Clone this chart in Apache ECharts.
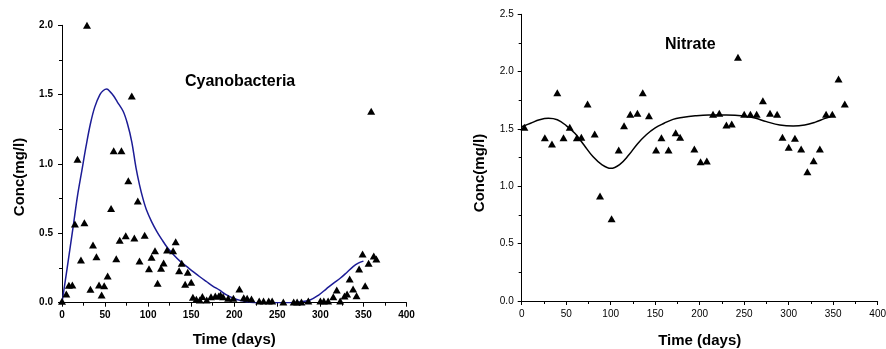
<!DOCTYPE html>
<html>
<head>
<meta charset="utf-8">
<script src="https://cdn.jsdelivr.net/npm/echarts@6/dist/echarts.min.js"></script>
<style>html,body{margin:0;padding:0;background:#fff}#c{width:886px;height:349px}</style>
</head>
<body>
<div id="c"></div>
<script>
// Cyanobacteria observations
var cyanoDays = [0,5,8,12,15,18,22,26,29,33,36,40,43,46,49,53,57,60,63,67,69,74,77,81,84,88,90,96,101,104,108,111,115,118,122,129,132,136,139,143,146,150,152,156,160,163,168,173,178,182,184,187,193,199,206,211,215,220,229,234,240,244,257,269,273,278,286,300,304,309,315,319,323,328,331,334,338,342,345,349,352,356,359,362,365];
var cyanoVals = [0.01,0.063,0.125,0.128,0.567,1.034,0.308,0.577,2.0,0.097,0.416,0.332,0.128,0.056,0.123,0.193,0.68,1.096,0.317,0.45,1.096,0.483,0.88,1.49,0.466,0.733,0.30,0.486,0.245,0.327,0.375,0.14,0.248,0.286,0.38,0.375,0.44,0.23,0.284,0.133,0.219,0.147,0.04,0.025,0.02,0.045,0.02,0.043,0.048,0.048,0.056,0.043,0.032,0.032,0.099,0.036,0.032,0.027,0.012,0.012,0.012,0.012,0.005,0.005,0.005,0.005,0.012,0.012,0.012,0.012,0.043,0.092,0.012,0.048,0.063,0.171,0.099,0.05,0.243,0.351,0.123,0.284,1.38,0.337,0.315];
// Cyanobacteria fitted curve
var cyanoFitDays = [0,6,13,18,23,28,33,38,44,48,52,56,60,64,71,76,81,86,90,94,98,104,110,116,122,129,137,145,153,160,168,175,183,190,199,208,218,228,240,255,265,275,288,298,307,315,323,331,338,344,350];
var cyanoFitVals = [0,0.25,0.55,0.77,0.95,1.13,1.29,1.41,1.50,1.53,1.54,1.52,1.49,1.45,1.38,1.29,1.16,0.97,0.85,0.75,0.67,0.585,0.515,0.455,0.40,0.35,0.30,0.26,0.22,0.187,0.151,0.12,0.09,0.06,0.032,0.015,0.004,0,0,0,0,0.005,0.02,0.055,0.10,0.14,0.176,0.22,0.26,0.285,0.30];
// Nitrate observations
var nitDays = [3,26,34,40,47,54,62,67,74,82,88,101,109,115,122,130,136,143,151,157,165,173,178,194,201,208,215,222,230,236,243,250,257,264,271,279,287,293,300,307,314,321,328,335,342,349,356,363];
var nitVals = [1.515,1.424,1.37,1.817,1.424,1.515,1.424,1.428,1.718,1.456,0.916,0.718,1.317,1.529,1.628,1.637,1.817,1.616,1.317,1.424,1.317,1.468,1.428,1.326,1.215,1.221,1.628,1.637,1.535,1.544,2.125,1.628,1.628,1.628,1.747,1.637,1.628,1.428,1.34,1.419,1.326,1.128,1.224,1.326,1.628,1.628,1.936,1.718];
// Nitrate fitted curve
var nitFitDays = [0,10,20,30,40,50,60,70,80,90,100,110,120,130,140,150,160,170,180,195,210,230,250,262,275,290,305,318,330,340,349];
var nitFitVals = [1.52,1.55,1.58,1.593,1.58,1.53,1.46,1.36,1.26,1.19,1.157,1.19,1.27,1.37,1.45,1.51,1.55,1.584,1.60,1.615,1.622,1.622,1.613,1.595,1.564,1.535,1.526,1.535,1.56,1.59,1.613];

var xTicks = {min:0,max:400,interval:50};
var cyanoTicks = {min:0,max:2.0,interval:0.5};
var nitTicks = {min:0,max:2.5,interval:0.5};

function pairs(a,b){return a.map(function(v,i){return [v,b[i]];});}
var FONT = '"Liberation Sans", Arial, sans-serif';

function axisCommon(bold, margin){
  return {
    axisLine:{show:true,onZero:false,lineStyle:{color:'#000',width:1}},
    axisTick:{show:true,inside:false,length:4,lineStyle:{color:'#000',width:1}},
    minorTick:{show:true,splitNumber:2,length:3,lineStyle:{color:'#000',width:1}},
    splitLine:{show:false},
    minorSplitLine:{show:false},
    axisLabel:{color:'#000',fontSize:10,fontWeight:bold?'bold':'normal',fontFamily:FONT,margin:margin}
  };
}

var chart = echarts.init(document.getElementById('c'), null, {renderer:'canvas'});
var xa0 = Object.assign(axisCommon(true,8), {type:'value',gridIndex:0,min:xTicks.min,max:xTicks.max,interval:xTicks.interval,
  name:'Time (days)',nameLocation:'middle',nameGap:30,nameTextStyle:{fontSize:15,fontWeight:'bold',color:'#000',fontFamily:FONT}});
var xa1 = Object.assign(axisCommon(false,8), {type:'value',gridIndex:1,min:xTicks.min,max:xTicks.max,interval:xTicks.interval,
  name:'Time (days)',nameLocation:'middle',nameGap:32,nameTextStyle:{fontSize:15,fontWeight:'bold',color:'#000',fontFamily:FONT}});
var ya0 = Object.assign(axisCommon(true,9), {type:'value',gridIndex:0,min:cyanoTicks.min,max:cyanoTicks.max,interval:cyanoTicks.interval});
ya0.axisLabel.formatter=function(v){return v.toFixed(1);};
var ya1 = Object.assign(axisCommon(false,8), {type:'value',gridIndex:1,min:nitTicks.min,max:nitTicks.max,interval:nitTicks.interval});
ya1.axisLabel.formatter=function(v){return v.toFixed(1);};

chart.setOption({
  animation:false,
  backgroundColor:'#fff',
  grid:[
    {left:62,right:479.5,top:25.3,bottom:46.3,outerBoundsMode:'none',containLabel:false},
    {left:521.7,right:8.3,top:14.3,bottom:48,outerBoundsMode:'none',containLabel:false}
  ],
  xAxis:[xa0,xa1],
  yAxis:[ya0,ya1],
  graphic:[
    {type:'text',left:185,top:74,style:{text:'Cyanobacteria',font:'bold 16px '+FONT,fill:'#000'}},
    {type:'text',left:665,top:37,style:{text:'Nitrate',font:'bold 16px '+FONT,fill:'#000'}},
    {type:'text',x:20,y:177,rotation:Math.PI/2,style:{text:'Conc(mg/l)',font:'bold 15px '+FONT,fill:'#000',align:'center',verticalAlign:'middle'}},
    {type:'text',x:480,y:173,rotation:Math.PI/2,style:{text:'Conc(mg/l)',font:'bold 15px '+FONT,fill:'#000',align:'center',verticalAlign:'middle'}}
  ],
  series:[
    {type:'line',xAxisIndex:0,yAxisIndex:0,data:pairs(cyanoFitDays,cyanoFitVals),smooth:0.35,showSymbol:false,silent:true,
      lineStyle:{color:'#1c1c96',width:1.5},z:2},
    {type:'scatter',xAxisIndex:0,yAxisIndex:0,data:pairs(cyanoDays,cyanoVals),symbol:'triangle',symbolSize:[8,7],
      itemStyle:{color:'#000',opacity:1},z:3},
    {type:'line',xAxisIndex:1,yAxisIndex:1,data:pairs(nitFitDays,nitFitVals),smooth:0.4,showSymbol:false,silent:true,
      lineStyle:{color:'#000',width:1.5},z:2},
    {type:'scatter',xAxisIndex:1,yAxisIndex:1,data:pairs(nitDays,nitVals),symbol:'triangle',symbolSize:[8,7],
      itemStyle:{color:'#000',opacity:1},z:3}
  ]
});
</script>
</body>
</html>
